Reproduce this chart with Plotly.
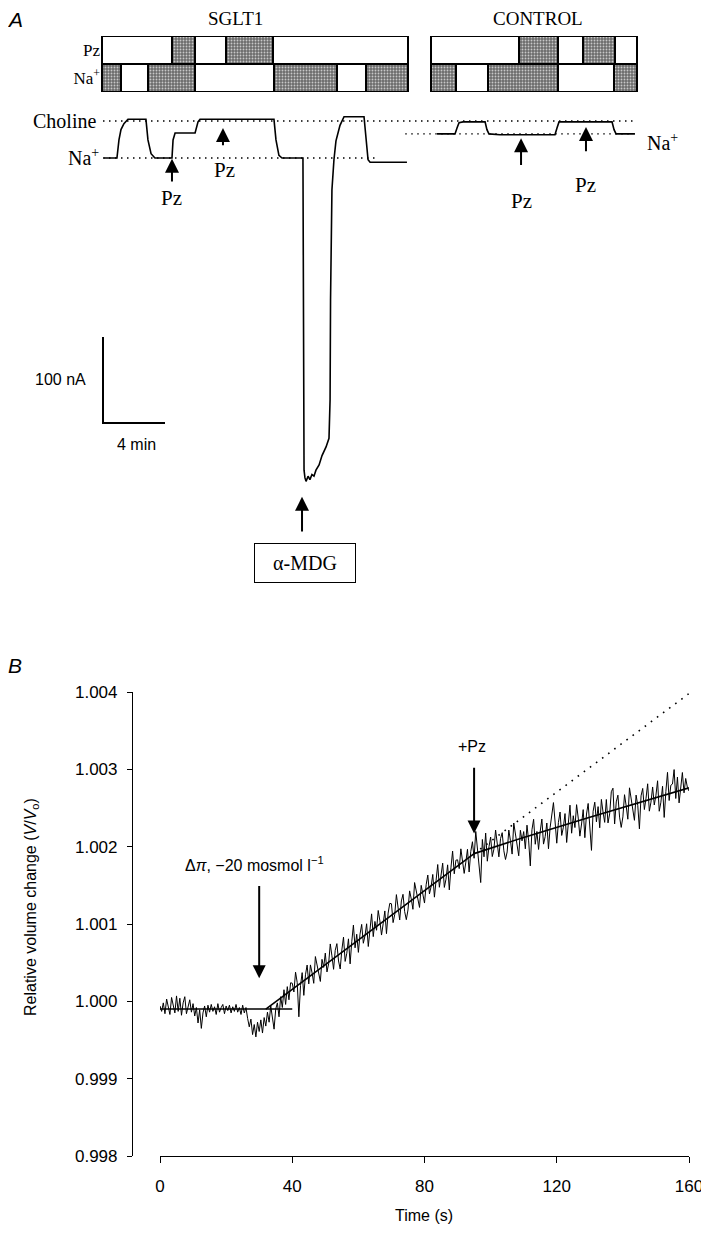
import plotly.graph_objects as go

# the page body has an 8px margin; lay out in reference-pixel terms, offset by it
OFF = 8
W, H = 701, 1220
SERIF = "Liberation Serif, Times New Roman, serif"
SANS = "Liberation Sans, Arial, Helvetica, sans-serif"


def px(x):
    return (x - OFF) / W


def py(y):
    return 1 - (y - OFF) / H


# ---------------- Panel A data (time in min, current in nA) ----------------
sglt1_t = [0.06, 0.90, 1.03, 1.16, 1.35, 1.61, 2.77, 2.90, 3.10, 3.35, 4.45, 4.52, 4.65,
           5.94, 6.13, 6.26, 11.03, 11.16, 11.35, 11.55, 12.90, 12.94, 12.97, 13.03, 13.10,
           13.23, 13.35, 13.48, 13.61, 13.74, 13.94, 14.13, 14.39, 14.58, 14.65, 14.68, 14.71,
           14.77, 14.90, 15.03, 15.29, 15.55, 16.84, 16.97, 17.10, 17.23, 19.61]
sglt1_nA = [0, 0, 21, 33, 40, 45, 45, 21, 5, 0, 0, 21, 29,
            29, 42, 45, 45, 21, 3, 0, 0, -165, -363, -372, -376,
            -370, -374, -368, -370, -363, -357, -346, -336, -326, -281, -165, -84,
            -37, -2, 20, 38, 48, 48, 21, -2, -5, -5]

control_t = [21.55, 22.71, 22.84, 22.97, 23.23, 24.65, 24.77, 24.90, 25.61, 29.16, 29.29,
             29.42, 32.84, 32.97, 33.10, 34.32]
control_nA = [28, 28, 35, 41, 42, 42, 33, 28, 27, 27, 35, 42, 42, 33, 28, 28]

choline_ref_t = [0.0, 34.2]
choline_ref_nA = [43, 43]
na_ref_sglt1_t = [0.0, 17.6]
na_ref_sglt1_nA = [0, 0]
na_ref_control_t = [19.5, 34.2]
na_ref_control_nA = [28, 28]

# solution-protocol bars: (start, end) in min
pz_shaded = [(4.45, 5.94), (7.94, 10.97), (26.84, 29.35), (30.97, 33.03)]
pz_white = [(-0.06, 4.45), (5.94, 7.94), (10.97, 19.68), (21.16, 26.84), (29.35, 30.97), (33.03, 34.45)]
na_shaded = [(-0.06, 1.16), (2.90, 5.94), (11.03, 15.10), (16.97, 19.68), (21.16, 22.77),
             (24.84, 29.35), (32.97, 34.45)]
na_white = [(1.16, 2.90), (5.94, 11.03), (15.10, 16.97), (22.77, 24.84), (29.35, 32.97)]
row_labels = ["Na<sup>+</sup>", "Pz"]

scale_origin = (0.0, -308.0)
scale_bar_nA = 100
scale_bar_min = 4

# ---------------- Panel B data ----------------
# relative volume change x 1e4, i.e. V/Vo = 1 + v/1e4, sampled every 0.5 s from 0 to 160 s
volume_e4 = [
    -0.6, -1.3, -0.2, -1.6, 0.3, -0.9, -1.7, 0.5, -0.5, -1.5,
    0.7, -1.3, 0.4, -1.8, -0.2, 0.6, -1.6, -0.6, 0.2, -1.4,
    -0.3, -1.9, -0.8, -2.8, -1.1, -3.5, -1.5, -0.6, -2.0, -0.5,
    -1.4, -0.4, -1.3, -0.7, -1.7, -0.3, -1.4, -0.8, -0.4, -1.6,
    -0.6, -1.2, -0.5, -1.5, -0.7, -1.3, -0.4, -1.4, -0.8, -1.7,
    -0.5, -1.5, -0.8, -2.2, -3.3, -2.3, -4.3, -3.0, -4.6, -2.7,
    -3.9, -2.4, -4.1, -2.1, -3.2, -1.4, -2.7, -0.6, -2.0, -3.6,
    -1.0, -0.2, -2.0, 0.6, -0.8, 1.5, -0.4, 1.9, 0.2, 2.4,
    2.35, 1.21, 3.77, 2.43, -2.0, 2.05, 3.71, 0.77, 3.43, 4.69,
    2.25, 4.71, 3.67, 2.33, 5.79, 4.65, 3.71, 2.57, 5.43, 4.39,
    6.24, 3.80, 4.86, 7.42, 5.88, 4.14, 6.60, 7.46, 5.22, 4.18,
    6.64, 8.30, 5.16, 6.22, 8.08, 4.84, 7.70, 9.86, 6.92, 8.68,
    6.33, 8.69, 9.95, 7.51, 8.47, 10.03, 7.09, 9.25, 11.31, 8.37,
    10.33, 9.19, 11.75, 10.41, 8.57, 10.03, 11.69, 8.75, 11.41, 12.67,
    12.62, 10.18, 11.24, 13.80, 12.26, 10.52, 12.98, 13.84, 11.60, 10.56,
    11.82, 14.28, 13.24, 11.90, 15.36, 14.22, 13.28, 12.14, 15.00, 13.96,
    12.71, 15.07, 16.33, 13.89, 14.85, 16.41, 13.47, 15.63, 17.69, 14.75,
    16.21, 17.87, 14.73, 15.79, 17.65, 14.41, 17.27, 19.43, 16.49, 18.25,
    18.30, 17.16, 19.72, 18.38, 16.54, 18.00, 19.66, 16.72, 19.38, 20.64,
    18.50, 21.97, 19.63, 18.10, 15.36, 20.93, 18.69, 21.76, 18.12, 19.99,
    21.25, 18.72, 19.68, 22.15, 20.51, 18.68, 21.04, 21.81, 19.47, 18.34,
    19.32, 22.15, 20.77, 19.04, 23.06, 21.57, 20.31, 18.82, 22.12, 20.75,
    21.95, 19.72, 22.78, 20.75, 17.51, 22.18, 23.54, 20.31, 21.97, 19.64,
    22.00, 23.57, 20.33, 21.30, 23.06, 19.73, 22.49, 24.56, 25.70, 23.19,
    20.45, 23.12, 24.48, 21.45, 22.51, 24.28, 20.54, 23.01, 25.37, 21.74,
    24.00, 22.47, 25.43, 23.70, 21.36, 22.93, 24.79, 21.16, 24.22, 25.59,
    22.15, 19.52, 24.58, 25.75, 23.21, 25.18, 22.44, 26.11, 24.47, 23.14,
    26.10, 23.07, 24.23, 27.10, 27.56, 22.93, 25.79, 26.66, 23.82, 22.49,
    23.85, 26.72, 25.28, 23.55, 27.61, 26.08, 24.84, 23.41, 26.67, 25.34,
    22.30, 26.57, 27.53, 24.80, 26.26, 28.13, 24.59, 25.76, 27.72, 25.39,
    26.65, 28.52, 24.58, 25.75, 27.81, 23.78, 27.14, 29.61, 25.97, 27.94,
    28.10, 29.97, 26.23, 29.00, 25.66, 27.83, 29.59, 26.96, 28.82, 27.69,
    27.2,
]
sample_dt = 0.5
time_s = [i * sample_dt for i in range(len(volume_e4))]
volume = [1 + v / 1e4 for v in volume_e4]

fit_base_t = [0, 40]
fit_base_v = [0.99990, 0.99990]
fit_rise_t = [32, 95]
fit_rise_v = [0.99990, 1.00191]
fit_pz_t = [95, 110, 130, 160]
fit_pz_v = [1.00191, 1.00212, 1.00238, 1.00276]
extrap_t = [95, 160]
extrap_v = [1.00191, 1.00398]

fig = go.Figure()


# ---- Panel A: protocol bars ----
def add_bars(segs, row, shaded):
    marker = dict(line=dict(color="black", width=2))
    if shaded:
        marker.update(color="#777777",
                      pattern=dict(shape=".", fgcolor="#c8c8c8", bgcolor="#6c6c6c",
                                   size=3, solidity=0.3, fillmode="replace"))
    else:
        marker.update(color="white")
    fig.add_trace(go.Bar(
        orientation="h", y=[row] * len(segs), x=[e - s for s, e in segs],
        base=[s for s, e in segs], width=1, marker=marker,
        xaxis="x2", yaxis="y3", showlegend=False, hoverinfo="skip"))


add_bars(pz_white, 1, False)
add_bars(pz_shaded, 1, True)
add_bars(na_white, 0, False)
add_bars(na_shaded, 0, True)

# ---- Panel A: reference dotted lines ----
for tt, yy in [(choline_ref_t, choline_ref_nA), (na_ref_sglt1_t, na_ref_sglt1_nA),
               (na_ref_control_t, na_ref_control_nA)]:
    fig.add_trace(go.Scatter(x=tt, y=yy, mode="lines", xaxis="x2", yaxis="y2",
                             line=dict(color="black", width=1.4, dash="1.5px,4.5px"),
                             showlegend=False, hoverinfo="skip"))

# ---- Panel A: current traces ----
fig.add_trace(go.Scatter(x=sglt1_t, y=sglt1_nA, mode="lines", xaxis="x2", yaxis="y2",
                         line=dict(color="black", width=1.6), showlegend=False))
fig.add_trace(go.Scatter(x=control_t, y=control_nA, mode="lines", xaxis="x2", yaxis="y2",
                         line=dict(color="black", width=1.6), showlegend=False))

# ---- Panel A: scale bar ----
o_t, o_I = scale_origin
fig.add_trace(go.Scatter(x=[o_t, o_t, o_t + scale_bar_min],
                         y=[o_I + scale_bar_nA, o_I, o_I], mode="lines",
                         xaxis="x2", yaxis="y2", line=dict(color="black", width=2),
                         showlegend=False, hoverinfo="skip"))

# ---- Panel B traces ----
fig.add_trace(go.Scatter(x=time_s, y=volume, mode="lines",
                         line=dict(color="black", width=1.0), showlegend=False))
for tt, vv in [(fit_base_t, fit_base_v), (fit_rise_t, fit_rise_v), (fit_pz_t, fit_pz_v)]:
    fig.add_trace(go.Scatter(x=tt, y=vv, mode="lines",
                             line=dict(color="black", width=1.6), showlegend=False))
fig.add_trace(go.Scatter(x=extrap_t, y=extrap_v, mode="lines",
                         line=dict(color="black", width=1.6, dash="1.6px,6px"),
                         showlegend=False))

ann = []


def a_text(x, y, text, size, font=SERIF, xanchor="center", ref=("x2", "y2"), **kw):
    ann.append(dict(x=x, y=y, xref=ref[0], yref=ref[1], text=text, showarrow=False,
                    xanchor=xanchor, yanchor="middle",
                    font=dict(family=font, size=size, color="black"), **kw))


def a_arrow(x, y, ay, ref=("x2", "y2"), width=2.0, size=1.4):
    ann.append(dict(x=x, y=y, ax=x, ay=ay, xref=ref[0], yref=ref[1], axref=ref[0],
                    ayref=ref[1], text="", showarrow=True, arrowhead=2,
                    arrowsize=size, arrowwidth=width, arrowcolor="black", standoff=0))


# Panel A text
a_text(8.52, 162, "SGLT1", 19)
a_text(28.06, 162, "CONTROL", 19)
a_text(-0.35, 43, "Choline", 20, xanchor="right")
a_text(-0.1, 1, "Na<sup>+</sup>", 20, xanchor="right")
a_text(34.97, 18.6, "Na<sup>+</sup>", 20, xanchor="left")
a_arrow(4.45, -1, -29)
a_text(4.45, -47, "Pz", 21)
a_arrow(7.74, 35, 13)
a_text(7.87, -14, "Pz", 21)
a_arrow(26.97, 23, -10)
a_text(27.0, -50, "Pz", 21)
a_arrow(31.16, 36, 6)
a_text(31.16, -31, "Pz", 21)
a_arrow(12.84, -394, -436)
ann.append(dict(x=13.03, y=-471, xref="x2", yref="y2", text="α-MDG", showarrow=False,
                xanchor="center", yanchor="middle",
                font=dict(family=SERIF, size=20, color="black"), width=100, height=38,
                bordercolor="black", borderwidth=1, borderpad=0, bgcolor="white"))
a_text(-2.75, -258, "100 nA", 16, font=SANS)
a_text(2.19, -332.6, "4 min", 16, font=SANS)

# Panel B text
a_text(28.7, 1.00178, "Δ<i>π</i>, −20 mosmol l<sup>−1</sup>", 16, font=SANS, ref=("x", "y"))
a_arrow(30, 1.00030, 1.00151, ref=("x", "y"), width=2, size=1.3)
a_text(94.4, 1.00329, "+Pz", 16, font=SANS, ref=("x", "y"))
a_arrow(95, 1.00217, 1.00304, ref=("x", "y"), width=2, size=1.3)


def paper_text(x, y, text, size, **kw):
    ann.append(dict(x=px(x), y=py(y), xref="paper", yref="paper", text=text,
                    showarrow=False, xanchor="center", yanchor="middle",
                    font=dict(family=SANS, size=size, color="black"), **kw))


paper_text(15, 20, "<i>A</i>", 21)
paper_text(15, 665, "<i>B</i>", 21)
paper_text(31, 907, "Relative volume change (<i>V</i>/<i>V</i><sub>o</sub>)", 16, textangle=-90)
paper_text(424, 1215, "Time (s)", 16)

axis_font = dict(family=SANS, size=17, color="black")
fig.update_layout(
    width=W, height=H, template="none",
    margin=dict(l=0, r=0, t=0, b=0, autoexpand=False),
    paper_bgcolor="white", plot_bgcolor="rgba(0,0,0,0)",
    barmode="overlay", bargap=0, showlegend=False,
    annotations=ann,
    xaxis=dict(domain=[px(160), px(689)], range=[0, 160], anchor="y",
               tickvals=[0, 40, 80, 120, 160], ticks="outside", ticklen=6, tickwidth=1.2,
               tickcolor="black", showline=True, linecolor="black", linewidth=1.2,
               showgrid=False, zeroline=False, tickfont=axis_font, ticklabelstandoff=8,
               automargin=False),
    yaxis=dict(domain=[py(1156), py(692)], range=[0.998, 1.004], anchor="free",
               position=px(132), tickvals=[0.998, 0.999, 1.000, 1.001, 1.002, 1.003, 1.004],
               tickformat=".3f", ticks="outside", ticklen=5, tickwidth=1.2, tickcolor="black",
               showline=True, linecolor="black", linewidth=1.2, showgrid=False,
               zeroline=False, tickfont=axis_font, ticklabelstandoff=6, automargin=False),
    xaxis2=dict(domain=[0, 1], range=[(OFF - 103) / 15.5, (OFF + W - 103) / 15.5], anchor="y2",
                visible=False, showgrid=False, zeroline=False),
    yaxis2=dict(domain=[py(600), 1], range=[(158 - 600) / 0.86, (158 - OFF) / 0.86],
                anchor="x2", visible=False, showgrid=False, zeroline=False),
    yaxis3=dict(domain=[py(92), py(36)], range=[-0.5, 1.5], anchor="free",
                position=px(100), tickvals=[0, 1], ticktext=row_labels, ticks="",
                showline=False, showgrid=False, zeroline=False,
                tickfont=dict(family=SERIF, size=17, color="black"), automargin=False),
)

fig.write_html("out.html")
